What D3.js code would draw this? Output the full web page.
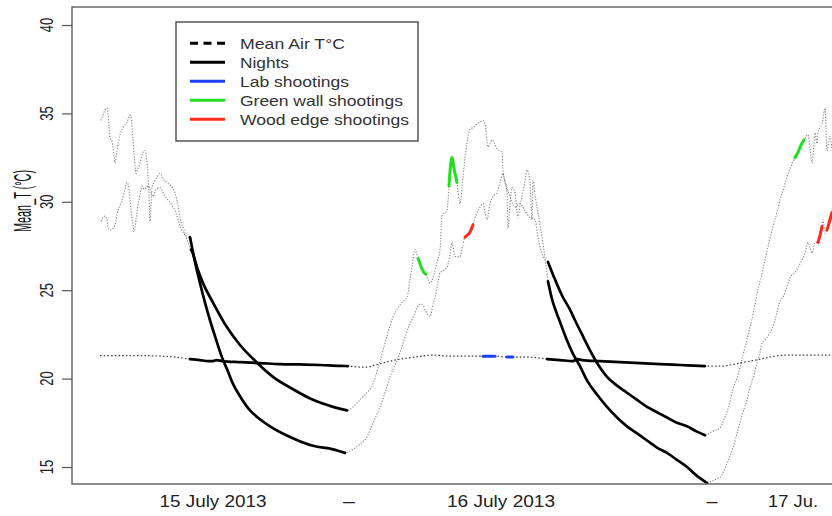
<!DOCTYPE html>
<html>
<head>
<meta charset="utf-8">
<script src="https://cdn.jsdelivr.net/npm/d3@7"></script>
<style>
  html, body { margin: 0; padding: 0; background: #fff; }
  svg { display: block; font-family: "Liberation Sans", Arial, sans-serif; }
</style>
</head>
<body>
<div id="chart"></div>
<script>
// time = minutes since 15 July 2013 12:00, temperature in °C
const labTemp = [
  [112,21.3],[192,21.3],[272,21.3],[352,21.27],[412,21.22],[444,21.16],[472,21.1],[512,21.05],[544,20.99],[564,20.99],
  [580,21.05],[600,20.99],[672,20.93],[752,20.88],[832,20.82],[912,20.8],[992,20.77],[1072,20.72],[1104,20.71],[1152,20.65],
  [1180,20.65],[1212,20.77],[1244,20.88],[1272,20.99],[1312,21.1],[1372,21.22],[1444,21.33],[1512,21.27],[1644,21.27],[1692,21.27],
  [1740,21.22],[1764,21.22],[1820,21.22],[1872,21.16],[1900,21.1],[1952,21.05],[2004,20.99],[2020,21.1],[2040,21.05],[2112,20.99],
  [2192,20.93],[2272,20.88],[2352,20.82],[2432,20.77],[2532,20.71],[2572,20.71],[2604,20.71],[2632,20.77],[2672,20.88],[2712,20.99],
  [2752,21.1],[2792,21.22],[2860,21.33],[2912,21.33],[3040,21.33]
];

const greenWallTemp = [
  [116,34.6],[124,34.9],[132,35.2],[140,35.3],[148,34.3],[152,33.6],[160,33.4],[168,32.6],[172,32.2],[180,32.9],
  [192,33.8],[204,34.2],[220,34.5],[232,34.9],[236,34.8],[244,33.5],[252,32.1],[256,31.6],[264,31.9],[272,32.2],
  [284,32.8],[292,32.9],[300,32.2],[308,30.4],[312,28.9],[316,29.8],[320,30.8],[332,31.2],[352,31.6],[364,31.3],
  [380,31.1],[396,30.9],[412,30.5],[424,29.8],[432,29.1],[448,28.4],[464,27.7],[476,27.3],
  [480,27.2],[500,26.3],[524,25.4],[564,24.3],[620,22.9],[672,21.9],[740,20.9],[804,20.1],[884,19.4],[964,18.8],
  [1044,18.4],[1100,18.2],
  [1124,18.4],[1152,18.8],[1180,19.2],[1204,19.7],[1224,20.6],[1244,21.6],[1264,22.6],[1284,23.5],[1304,24.0],[1320,24.3],
  [1340,24.6],[1352,25.6],[1360,26.3],[1372,27.3],[1380,27.0],[1384,26.8],[1392,26.5],[1400,26.2],[1408,26.0],[1416,25.9],
  [1424,25.6],[1432,25.4],[1444,25.7],[1460,26.6],[1472,27.3],[1480,29.2],[1492,29.4],[1500,29.5],[1508,30.9],[1512,31.7],
  [1520,32.5],[1528,31.9],[1540,31.1],[1552,29.9],[1564,31.4],[1572,32.5],[1580,33.3],[1592,34.1],[1604,34.2],[1620,34.4],
  [1632,34.5],[1644,34.6],[1652,34.4],[1664,33.1],[1672,33.3],[1680,33.5],[1700,33.0],[1720,32.8],[1724,31.8],[1740,30.8],
  [1752,30.3],[1772,29.7],[1792,29.9],[1812,29.5],[1832,29.1],[1852,29.0],[1864,28.0],[1884,26.9],
  [1904,26.6],[1932,25.6],[1960,24.7],[1992,23.9],[2012,23.3],[2040,22.5],[2072,21.6],[2104,20.8],[2140,20.1],[2180,19.6],
  [2220,19.2],[2260,18.8],[2300,18.4],[2340,18.1],[2380,17.8],[2420,17.5],[2460,17.3],[2500,17.0],[2532,16.8],
  [2560,17.0],[2592,17.2],[2608,17.7],[2620,18.1],[2632,18.7],[2644,19.4],[2664,20.2],[2680,21.1],[2696,22.0],[2712,22.9],
  [2728,23.9],[2740,24.8],[2756,25.7],[2772,26.7],[2788,27.7],[2804,28.6],[2820,29.4],[2832,30.1],[2848,30.8],[2860,31.4],
  [2876,32.0],[2892,32.5],[2904,32.8],[2916,33.2],[2928,33.5],[2944,33.8],[2952,33.0],[2960,32.2],[2968,33.2],[2972,33.9],
  [2980,33.3],[2984,33.9],[2992,34.2],[3000,34.4],[3012,35.3],[3020,32.9],[3032,33.7],[3040,32.9]
];

const woodEdgeTemp = [
  [116,28.9],[124,29.1],[132,29.2],[140,29.0],[144,28.6],[152,28.4],[164,28.5],[172,28.7],[184,29.5],[192,29.8],
  [200,30.1],[212,30.7],[220,31.1],[228,30.7],[236,29.5],[244,28.7],[248,28.3],[256,29.0],[264,29.8],[272,30.4],
  [280,30.9],[288,30.7],[296,30.8],[304,30.9],[312,30.7],[324,30.3],[336,30.7],[352,30.8],[368,30.4],[384,30.1],
  [400,29.8],[412,29.5],[424,29.0],[436,28.5],[448,28.2],[460,28.0],
  [472,28.0],[492,26.6],[512,25.4],[532,24.3],[552,23.3],[572,22.4],[600,21.2],[624,20.4],[644,19.7],[672,19.0],
  [712,18.2],[752,17.7],[792,17.3],[872,16.7],[964,16.2],[1044,16.0],[1092,15.8],
  [1112,15.9],[1124,16.0],[1152,16.3],[1180,16.7],[1204,17.5],[1232,18.4],[1252,19.2],[1272,20.1],[1296,20.9],[1320,21.8],
  [1336,22.5],[1352,23.1],[1368,23.6],[1380,24.0],[1392,24.2],[1400,24.2],[1416,23.8],[1432,23.5],[1444,24.2],[1452,24.6],
  [1464,25.4],[1472,26.0],[1484,26.1],[1500,26.3],[1512,27.0],[1520,27.7],[1532,26.9],[1544,26.9],[1552,26.9],[1564,27.6],
  [1572,28.0],[1580,28.1],[1588,28.2],[1596,28.4],[1604,28.7],[1612,29.1],[1624,29.5],[1632,29.7],[1644,29.9],[1652,29.4],
  [1660,29.0],[1672,29.9],[1684,30.3],[1700,30.5],[1712,31.1],[1724,31.6],[1732,31.1],[1740,30.5],[1744,28.5],[1752,29.9],
  [1760,30.8],[1772,30.5],[1784,29.1],[1792,29.8],[1800,30.3],[1812,31.2],[1820,31.8],[1832,31.1],[1840,29.0],[1844,31.2],
  [1852,30.4],[1860,29.7],[1872,28.7],[1884,27.6],[1896,26.4],
  [1904,25.5],[1920,24.5],[1936,23.8],[1952,23.2],[1976,22.3],[2004,21.4],[2032,20.7],[2060,19.9],[2100,19.1],[2140,18.4],
  [2180,17.8],[2220,17.3],[2260,16.9],[2300,16.5],[2340,16.1],[2380,15.8],[2420,15.4],[2460,15.0],[2500,14.5],[2540,14.1],
  [2560,14.2],[2576,14.3],[2592,14.4],[2620,15.2],[2644,16.1],[2664,17.1],[2684,18.1],[2700,18.8],[2712,19.5],[2728,20.2],
  [2740,20.9],[2752,21.5],[2760,22.0],[2772,22.2],[2792,22.6],[2812,23.3],[2824,24.0],[2832,24.4],[2844,24.6],[2860,25.2],
  [2872,25.7],[2892,26.0],[2912,26.5],[2932,27.1],[2944,27.7],[2952,27.4],[2960,27.1],[2972,27.7],[2984,27.7],[2992,28.1],
  [3000,28.6],[3004,29.0],[3012,28.2],[3020,28.4],[3032,29.0],[3040,29.4]
];

// periods (start, end) in minutes
const nights = [[470, 1104], [1900, 2540]];
const labShootings = [[1644, 1692], [1740, 1764]];
const greenWallShootings = [[1384, 1416], [1508, 1540], [2892, 2928]];
const woodEdgeShootings = [[1572, 1604], [2984, 3000], [3020, 3040]];

const yTicks = [15, 20, 25, 30, 35, 40];
const xTickTimes = [564, 1108, 1716, 2560, 2884];
const xTickLabels = ['15 July 2013', '\u2013', '16 July 2013', '\u2013', '17 Ju.'];
const xTickWidths = [107, 12, 108, 11, 50];

const legendLabels = ['Mean Air T\u00b0C', 'Nights', 'Lab shootings', 'Green wall shootings', 'Wood edge shootings'];
const legendColors = ['#000', '#000', '#1f3fff', '#1ee01e', '#ff2a1a'];
const legendWidths = [105, 49, 109, 163, 169];

const width = 832, height = 516;
const plot = { left: 72, right: 832, top: 7, bottom: 484 };

const svg = d3.select('#chart')
    .append('svg')
    .attr('width', width)
    .attr('height', height);

const x = d3.scaleLinear().domain([0, 3040]).range([plot.left, plot.right]);
const y = d3.scaleLinear().domain([15, 40]).range([467, 25]);

svg.append('defs').append('clipPath')
    .attr('id', 'plot-clip')
    .append('rect')
    .attr('x', plot.left).attr('y', plot.top)
    .attr('width', plot.right - plot.left).attr('height', plot.bottom - plot.top);

const line = d3.line()
    .x(d => x(d[0]))
    .y(d => y(d[1]))
    .curve(d3.curveMonotoneX);

const inPeriod = (series, p) => series.filter(d => d[0] >= p[0] && d[0] <= p[1]);

const lines = svg.append('g').attr('clip-path', 'url(#plot-clip)');

// dotted full series
[greenWallTemp, woodEdgeTemp].forEach(s => {
    lines.append('path')
        .attr('d', line(s))
        .attr('fill', 'none')
        .attr('stroke', '#858585')
        .attr('stroke-width', 1.1)
        .attr('stroke-dasharray', '1.2,1.6');
});
lines.append('path')
    .attr('d', line(labTemp))
    .attr('fill', 'none')
    .attr('stroke', '#3a3a3a')
    .attr('stroke-width', 1.2)
    .attr('stroke-dasharray', '1.5,2.2');

// nights in thick black
[greenWallTemp, woodEdgeTemp, labTemp].forEach(s => {
    nights.forEach(p => {
        lines.append('path')
            .attr('d', line(inPeriod(s, p)))
            .attr('fill', 'none')
            .attr('stroke', '#000')
            .attr('stroke-width', 2.7)
            .attr('stroke-linecap', 'round');
    });
});

// shootings
const shootings = [
    { series: labTemp, periods: labShootings, color: legendColors[2] },
    { series: greenWallTemp, periods: greenWallShootings, color: legendColors[3] },
    { series: woodEdgeTemp, periods: woodEdgeShootings, color: legendColors[4] }
];
shootings.forEach(sh => {
    sh.periods.forEach(p => {
        lines.append('path')
            .attr('d', line(inPeriod(sh.series, p)))
            .attr('fill', 'none')
            .attr('stroke', sh.color)
            .attr('stroke-width', 3)
            .attr('stroke-linecap', 'round');
    });
});

// frame
svg.append('path')
    .attr('d', `M${plot.right},${plot.top}H${plot.left}V${plot.bottom}H${plot.right}`)
    .attr('fill', 'none')
    .attr('stroke', '#666')
    .attr('stroke-width', 1.5);

// y axis
const yAxis = svg.append('g')
    .attr('transform', `translate(${plot.left},0)`)
    .call(d3.axisLeft(y).tickValues(yTicks).tickSize(10).tickFormat(''));
yAxis.select('.domain').remove();
yAxis.selectAll('.tick line').attr('stroke', '#555').attr('stroke-width', 1.2);

svg.append('g').selectAll('text')
    .data(yTicks)
    .enter()
    .append('text')
    .attr('transform', d => `translate(53,${y(d)}) rotate(-90)`)
    .attr('text-anchor', 'middle')
    .attr('font-size', 17.5)
    .attr('fill', '#222')
    .attr('textLength', 14.5)
    .attr('lengthAdjust', 'spacingAndGlyphs')
    .text(d => d);

svg.append('text')
    .attr('transform', 'translate(31,201) rotate(-90)')
    .attr('text-anchor', 'middle')
    .attr('font-size', 23)
    .attr('fill', '#111')
    .attr('textLength', 62)
    .attr('lengthAdjust', 'spacingAndGlyphs')
    .text('Mean_T (\u00b0C)');

// x labels
svg.append('g').selectAll('text')
    .data(xTickTimes)
    .enter()
    .append('text')
    .attr('x', (d, i) => x(d) - xTickWidths[i] / 2)
    .attr('y', 507)
    .attr('font-size', 16)
    .attr('fill', '#222')
    .attr('textLength', (d, i) => xTickWidths[i])
    .attr('lengthAdjust', 'spacingAndGlyphs')
    .text((d, i) => xTickLabels[i]);

// legend
const legend = svg.append('g');
legend.append('rect')
    .attr('x', 176).attr('y', 22)
    .attr('width', 242).attr('height', 119)
    .attr('fill', '#fff')
    .attr('stroke', '#555')
    .attr('stroke-width', 1.5);

const rowY = i => 43.3 + i * 19;
legend.selectAll('line')
    .data(legendLabels)
    .enter()
    .append('line')
    .attr('x1', 190).attr('x2', 225)
    .attr('y1', (d, i) => rowY(i)).attr('y2', (d, i) => rowY(i))
    .attr('stroke', (d, i) => legendColors[i])
    .attr('stroke-width', 3)
    .attr('stroke-dasharray', (d, i) => i === 0 ? '8,5.5' : null);

legend.selectAll('text')
    .data(legendLabels)
    .enter()
    .append('text')
    .attr('x', 240)
    .attr('y', (d, i) => rowY(i) + 5.2)
    .attr('font-size', 15)
    .attr('fill', '#333')
    .attr('textLength', (d, i) => legendWidths[i])
    .attr('lengthAdjust', 'spacingAndGlyphs')
    .text(d => d);
</script>
</body>
</html>
